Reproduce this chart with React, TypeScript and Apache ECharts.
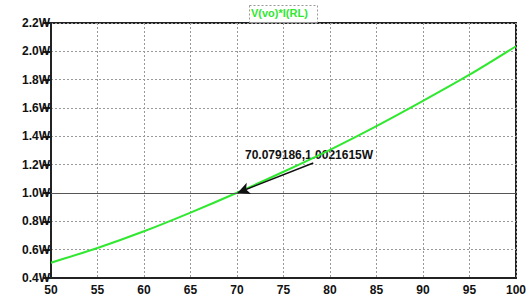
import React, { useEffect, useRef } from "react";
import * as echarts from "echarts";

const xValues = [50, 55, 60, 65, 70, 75, 80, 85, 90, 95, 100];
const powerValues = [0.508, 0.612, 0.73, 0.862, 1.002, 1.15, 1.305, 1.472, 1.65, 1.835, 2.036];
const yTicks = [0.4, 0.6, 0.8, 1.0, 1.2, 1.4, 1.6, 1.8, 2.0, 2.2];
const cursorPoint = [70.079186, 1.0021615];
const arrowStart = [78.2, 1.212];
const traceName = "V(vo)*I(RL)";
const cursorLabel = "70.079186,1.0021615W";

export default function App() {
  const ref = useRef<HTMLDivElement>(null);
  useEffect(() => {
    if (!ref.current) return;
    const chart = echarts.init(ref.current, null, { renderer: "svg" });
    const font = "'Liberation Sans', Arial, sans-serif";
    chart.setOption({
      animation: false,
      backgroundColor: "#ffffff",
      grid: { left: 51, right: 14, top: 23, bottom: 25, show: true, borderColor: "#222", borderWidth: 2 },
      xAxis: {
        type: "value",
        min: 50,
        max: 100,
        interval: 5,
        axisLine: { show: true, lineStyle: { color: "#222", width: 2 } },
        axisTick: { show: false },
        axisLabel: { color: "#111", fontFamily: font, fontWeight: "bold", fontSize: 12, margin: 6 },
        splitLine: { show: true, lineStyle: { color: "#999", type: [2, 2], width: 1 } },
      },
      yAxis: {
        type: "value",
        min: 0.4,
        max: 2.2,
        interval: 0.2,
        axisLine: { show: true, lineStyle: { color: "#222", width: 2 } },
        axisTick: { show: true, length: 8, lineStyle: { color: "#222", width: 2 } },
        axisLabel: {
          color: "#111",
          fontFamily: font,
          fontWeight: "bold",
          fontSize: 12,
          margin: 1,
          formatter: (v: number) => {
            const t = yTicks.find((y) => Math.abs(y - v) < 1e-6);
            return (t !== undefined ? t : v).toFixed(1) + "W";
          },
        },
        splitLine: { show: true, lineStyle: { color: "#999", type: [2, 2], width: 1 } },
      },
      series: [
        {
          type: "line",
          name: traceName,
          data: xValues.map((x, i) => [x, powerValues[i]]),
          smooth: 0.3,
          symbol: "none",
          lineStyle: { color: "#2fe82f", width: 2 },
          markLine: {
            silent: true,
            symbol: ["none", "none"],
            label: { show: false },
            lineStyle: { color: "#555", type: "solid", width: 1 },
            data: [{ yAxis: cursorPoint[1] }],
          },
        },
        {
          type: "line",
          data: [],
          markLine: {
            silent: true,
            symbol: ["none", "arrow"],
            symbolSize: [9, 12],
            label: { show: false },
            lineStyle: { color: "#111", type: "solid", width: 1.5 },
            data: [
              [
                { coord: arrowStart },
                { coord: cursorPoint },
              ],
            ],
          },
        },
      ],
      graphic: [
        {
          type: "rect",
          left: 249,
          top: 5,
          shape: { width: 68, height: 17 },
          style: { fill: "#fff", stroke: "#999", lineWidth: 1, lineDash: [2, 2] },
        },
        {
          type: "text",
          left: 251,
          top: 7,
          style: { text: traceName, fill: "#2fe82f", font: `bold 11px ${font}` },
        },
        {
          type: "text",
          left: 245,
          top: 149,
          style: { text: cursorLabel, fill: "#111", font: `bold 12px ${font}` },
        },
      ],
    });
    return () => chart.dispose();
  }, []);
  return <div ref={ref} style={{ width: 530, height: 303, position: "absolute", left: 0, top: 0 }} />;
}
